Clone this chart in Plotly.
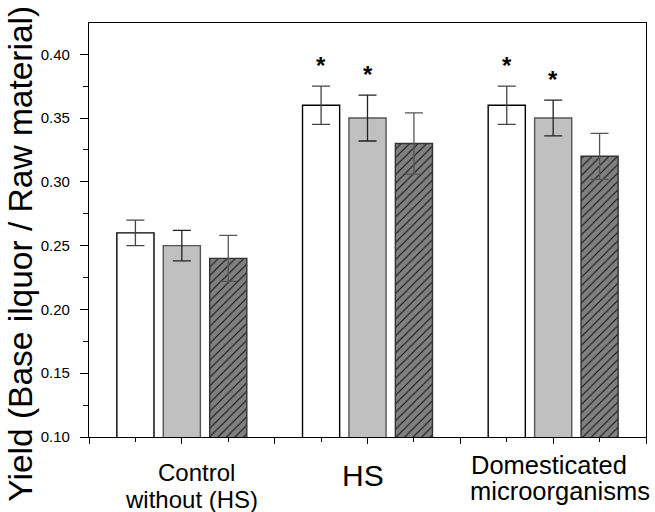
import plotly.graph_objects as go

# ---- data ----
group_pos = [1, 2, 3]

series1 = [0.26, 0.36, 0.36]
series1_err = [0.010, 0.015, 0.015]
series2 = [0.25, 0.35, 0.35]
series2_err = [0.012, 0.018, 0.014]
series3 = [0.24, 0.33, 0.32]
series3_err = [0.018, 0.024, 0.018]

# significance marks (series index, group index)
sig_marks = [(0, 1), (1, 1), (0, 2), (1, 2)]

y_ticks = [0.10, 0.15, 0.20, 0.25, 0.30, 0.35, 0.40]

FONT = "Liberation Sans, Arial, sans-serif"

fig = go.Figure()

styles = [
    dict(color="white", line=dict(color="black", width=1.4), pattern=None, ecol="#444"),
    dict(color="#c0c0c0", line=dict(color="#555555", width=1.4), pattern=None, ecol="#222"),
    dict(color="#808080", line=dict(color="#333333", width=1.4),
         pattern=dict(shape="/", fgcolor="#111111", bgcolor="#808080", size=6, solidity=0.18, fillmode="replace"),
         ecol="#555"),
]
vals = [series1, series2, series3]
errs = [series1_err, series2_err, series3_err]

for i, (v, e, s) in enumerate(zip(vals, errs, styles)):
    marker = dict(color=s["color"], line=s["line"])
    if s["pattern"] is not None:
        marker["pattern"] = s["pattern"]
    fig.add_trace(go.Bar(
        x=group_pos, y=v, marker=marker, showlegend=False, name=f"Series {i+1}",
        error_y=dict(type="data", array=e, visible=True, color=s["ecol"], thickness=1.3, width=9),
    ))

offsets = [-0.25, 0.0, 0.25]
for si, gi in sig_marks:
    xv = group_pos[gi] + offsets[si]
    yv = vals[si][gi] + errs[si][gi]
    fig.add_annotation(x=xv, y=yv, xref="x", yref="y", text="<b>*</b>", showarrow=False,
                       yanchor="bottom", yshift=5, font=dict(family=FONT, size=24, color="black"))

# category labels
label_specs = [
    (1.077, -0.0868, "Control", 24, "center"),
    (1.05, -0.150, "without (HS)", 24, "center"),
    (1.975, -0.0933, "HS", 30, "center"),
    (2.549, -0.0668, "Domesticated", 25.5, "left"),
    (2.543, -0.1312, "microorganisms", 25.5, "left"),
]
for xv, yv, txt, fs, xa in label_specs:
    fig.add_annotation(x=xv, y=yv, xref="x", yref="paper", text=txt, showarrow=False,
                       xanchor=xa, yanchor="middle", font=dict(family=FONT, size=fs, color="black"))

# y axis title
fig.add_annotation(x=-0.1245, y=0.442, xref="paper", yref="paper", text="Yield (Base ilquor / Raw material)",
                   textangle=-90, showarrow=False, xanchor="center", yanchor="middle",
                   font=dict(family=FONT, size=33.5, color="black"))

fig.update_layout(
    width=655, height=512,
    margin=dict(l=89, r=9, t=23, b=75, pad=0, autoexpand=False),
    plot_bgcolor="white", paper_bgcolor="white",
    barmode="group", bargap=0.25, bargroupgap=0.2,
    font=dict(family=FONT, color="black"),
)
fig.update_xaxes(
    range=[0.5, 3.5], showgrid=False, zeroline=False, showline=True, linecolor="black", linewidth=1.3,
    mirror=True, ticks="outside", tick0=0.5, dtick=0.5, ticklen=6, tickwidth=1.2, tickcolor="black",
    showticklabels=False,
    minor=dict(ticks="outside", dtick=0.25, tick0=0.5, ticklen=3.5, tickwidth=1.2, tickcolor="black"),
)
fig.update_yaxes(
    range=[0.1, 0.4245], showgrid=False, zeroline=False, showline=True, linecolor="black", linewidth=1.3,
    mirror=True, ticks="outside", tickvals=y_ticks, ticktext=[f"{t:.2f}" for t in y_ticks],
    ticklen=8, tickwidth=1.2, tickcolor="black", tickfont=dict(family=FONT, size=15, color="black"),
    ticklabelstandoff=7,
    minor=dict(ticks="outside", dtick=0.025, tick0=0.1, ticklen=5, tickwidth=1.2, tickcolor="black"),
)

# remove the page's default 8px body margin so the figure fills the window
fig.write_html("out.html", config={"displayModeBar": False},
               post_script="document.body.style.margin='0';")
